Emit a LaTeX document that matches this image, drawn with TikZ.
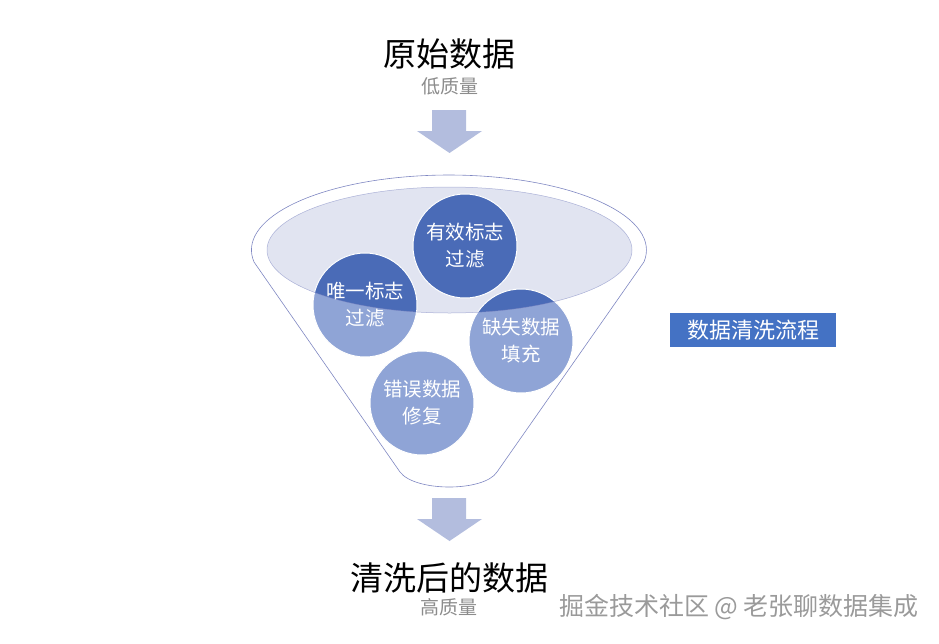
\documentclass[tikz,border=0pt]{standalone}
\usepackage{fontspec}
\newfontfamily\cjk{Noto Sans CJK SC}
\usetikzlibrary{positioning}

\definecolor{funnelline}{HTML}{7F87C2}
\definecolor{rimfill}{HTML}{E1E4F1}
\definecolor{stagedark}{HTML}{4A6BB7}
\definecolor{stagelight}{HTML}{8FA4D6}
\definecolor{arrowfill}{HTML}{B3BDDE}
\definecolor{tagblue}{HTML}{4472C4}
\definecolor{subgrey}{HTML}{8C8C8C}
\definecolor{stampgrey}{HTML}{9A9A9A}

\begin{document}
\begin{tikzpicture}[
  x=1pt, y=-1pt,
  font=\cjk,
  funnel/.style={draw=funnelline, line width=0.6pt},
  stage/.style={circle, draw=white, line width=1pt, fill=stagelight, minimum size=104pt, inner sep=0pt,
    text=white, align=center, font=\cjk\fontsize{19.5}{27}\selectfont,
    path picture={\fill[stagedark] (rc) ellipse[x radius=182.5, y radius=63];}},
  title/.style={font=\cjk\fontsize{33}{40}\selectfont, inner sep=0pt},
  sub/.style={font=\cjk\fontsize{19}{22}\selectfont, text=subgrey, inner sep=0pt},
  tag/.style={rectangle, fill=tagblue, text=white, minimum width=166pt, minimum height=34pt, inner sep=0pt,
    font=\cjk\fontsize{22}{25}\selectfont},
  stamp/.style={font=\cjk\fontsize{25}{28}\selectfont, text=stampgrey, inner sep=0pt},
  blockarrow/.style={fill=arrowfill}
]
  \useasboundingbox (0,0) rectangle (939,643);

  % funnel body and rim
  \coordinate (rc) at (449.5,250);
  \draw[funnel] (400,472) -- (254,262)
    arc[start angle=170.8, end angle=369.2, x radius=197.5, y radius=75]
    -- (497,472) .. controls (484,492) and (415,492) .. cycle;
  \fill[rimfill] (rc) ellipse[x radius=182.5, y radius=63];

  % cleaning steps
  \node[stage] (valid) at (465,246) {有效标志\\过滤};
  \node[stage] (uniq) at (365,305) {唯一标志\\过滤};
  \node[stage] (miss) at (521,341) {缺失数据\\填充};
  \node[stage] (fix) at (422,403) {错误数据\\修复};

  \draw[funnelline, line width=0.5pt, opacity=0.6] (rc) ellipse[x radius=182.5, y radius=63];

  % in and out
  \node[title] (raw) at (449.5,54) {原始数据};
  \node[sub] (rawq) at (449.5,86) {低质量};
  \node[title] (clean) at (449.5,578) {清洗后的数据};
  \node[sub] (cleanq) at (449,607) {高质量};

  \foreach \ty in {110,498}
    \fill[blockarrow] (432,\ty) -- (466,\ty) -- (466,\ty+21) -- (482,\ty+21)
      -- (449.5,\ty+43) -- (417,\ty+21) -- (432,\ty+21) -- cycle;

  \node[tag] (flow) at (753,330) {数据清洗流程};
  \node[stamp] (wm) at (739,607) {掘金技术社区 @ 老张聊数据集成};
\end{tikzpicture}
\end{document}
